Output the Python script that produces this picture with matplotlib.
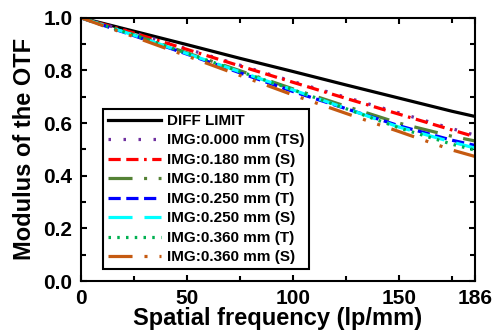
import matplotlib
matplotlib.use("Agg")
import matplotlib.pyplot as plt
from matplotlib.ticker import MultipleLocator, FixedLocator

plt.rcParams['font.family'] = ['Liberation Sans', 'DejaVu Sans']
plt.rcParams['font.weight'] = 'bold'
plt.rcParams['lines.scale_dashes'] = False

freq = [0, 25, 50, 75, 100, 125, 150, 175, 186]
diff_limit = [1.0, 0.949, 0.898, 0.846, 0.796, 0.745, 0.695, 0.645, 0.625]
img000_ts = [1.0, 0.943, 0.882, 0.820, 0.758, 0.698, 0.639, 0.579, 0.554]
img180_s = [1.0, 0.942, 0.880, 0.817, 0.755, 0.694, 0.634, 0.574, 0.548]
img180_t = [1.0, 0.935, 0.867, 0.799, 0.730, 0.664, 0.600, 0.550, 0.532]
img250_t = [1.0, 0.932, 0.862, 0.791, 0.720, 0.655, 0.590, 0.535, 0.515]
img250_s = [1.0, 0.934, 0.864, 0.795, 0.726, 0.656, 0.585, 0.528, 0.505]
img360_t = [1.0, 0.935, 0.865, 0.796, 0.727, 0.655, 0.582, 0.520, 0.497]
img360_s = [1.0, 0.928, 0.855, 0.781, 0.707, 0.637, 0.568, 0.498, 0.473]

x_ticks = [0, 50, 100, 150, 186]

fig = plt.figure(figsize=(4.96, 3.35), dpi=100)
ax = fig.add_axes([0.163, 0.161, 0.795, 0.786])

lw = 2.3
ax.plot(freq, diff_limit, color='black', lw=lw, label='DIFF LIMIT')
ax.plot(freq, img000_ts, color='#7030A0', lw=lw, dashes=(1.8, 9.0), label='IMG:0.000 mm (TS)')
ax.plot(freq, img180_s, color='#FF0000', lw=lw, dashes=(8.8, 4.0, 8.8, 4.0, 1.9, 4.0), label='IMG:0.180 mm (S)')
ax.plot(freq, img180_t, color='#548235', lw=lw, dashes=(17.3, 8.3, 2.2, 8.3), label='IMG:0.180 mm (T)')
ax.plot(freq, img250_t, color='#0000FF', lw=lw, dashes=(8.8, 4.0), label='IMG:0.250 mm (T)')
ax.plot(freq, img250_s, color='#00FFFF', lw=lw, dashes=(17.3, 8.6), label='IMG:0.250 mm (S)')
ax.plot(freq, img360_t, color='#00B050', lw=lw, dashes=(1.8, 4.5), label='IMG:0.360 mm (T)')
ax.plot(freq, img360_s, color='#C55A11', lw=lw, dashes=(17.3, 8.6, 2.2, 8.6, 2.2, 8.6), label='IMG:0.360 mm (S)')

ax.set_xlim(0, 186)
ax.set_ylim(0, 1.0)
ax.set_xticks(x_ticks)
ax.xaxis.set_minor_locator(FixedLocator([25, 75, 125, 175]))
ax.yaxis.set_major_locator(MultipleLocator(0.2))
ax.yaxis.set_minor_locator(MultipleLocator(0.1))
ax.yaxis.set_major_formatter(matplotlib.ticker.FormatStrFormatter('%.1f'))
ax.tick_params(which='both', direction='in', top=True, right=True, width=1.5)
ax.tick_params(which='major', length=4, labelsize=15, pad=6)
ax.tick_params(which='minor', length=3.5)
for s in ax.spines.values():
    s.set_linewidth(1.5)

ax.set_xlabel('Spatial frequency (lp/mm)', fontsize=17, fontweight='bold', labelpad=-1)
ax.set_ylabel('Modulus of the OTF', fontsize=17, fontweight='bold', labelpad=5)

leg = ax.legend(loc='lower left', bbox_to_anchor=(0.056, 0.046), borderaxespad=0,
                prop={'size': 11, 'weight': 'bold'}, handlelength=3.47, handletextpad=0.4,
                labelspacing=0.36, borderpad=0.3, fancybox=False, framealpha=1)
leg.get_frame().set_edgecolor('black')
leg.get_frame().set_linewidth(1.5)

fig.savefig('out.png', dpi=100)
